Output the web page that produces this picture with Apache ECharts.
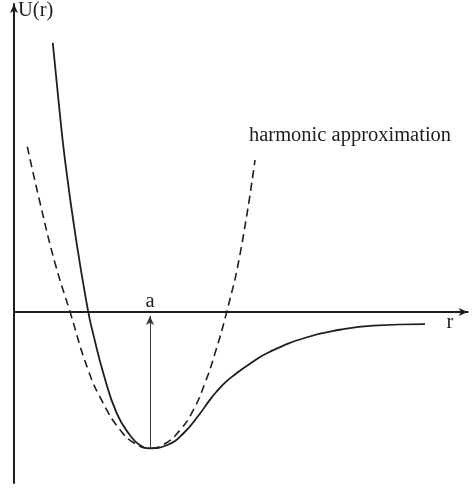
<!DOCTYPE html>
<html>
<head>
<meta charset="utf-8">
<script src="https://cdn.jsdelivr.net/npm/echarts@6/dist/echarts.min.js"></script>
<style>
  html, body { margin: 0; padding: 0; background: #fff; }
  #chart { width: 473px; height: 488px; }
</style>
</head>
<body>
<div id="chart"></div>
<script>
// Interatomic potential U(r): r in units of the equilibrium distance a,
// U in units of the well depth.
const morseR = [0.285, 0.327, 0.375, 0.457, 0.546, 0.581, 0.657, 0.755, 0.853, 0.927, 1.000,
                1.123, 1.245, 1.368, 1.429, 1.490, 1.550, 1.610, 1.735, 1.882, 2.154, 2.397, 2.640, 3.022];
const morseU = [1.974, 1.553, 1.113, 0.526, 0.000, -0.156, -0.450, -0.743, -0.905, -0.978, -1.000,
                -0.978, -0.892, -0.745, -0.660, -0.584, -0.521, -0.470, -0.380, -0.292, -0.186, -0.131, -0.101, -0.090];

// Harmonic (parabolic) approximation around the minimum
const harmR = [0.098, 0.191, 0.302, 0.412, 0.546, 0.657, 0.779, 0.890, 1.000,
               1.110, 1.221, 1.318, 1.404, 1.478, 1.564, 1.662, 1.772];
const harmU = [1.211, 0.802, 0.357, 0.000, -0.428, -0.672, -0.864, -0.966, -1.000,
               -0.967, -0.866, -0.721, -0.523, -0.303, 0.000, 0.423, 1.113];

const equilibriumR = 1.0;
const wellMin = -1.0;

const labels = {
  yName: 'U(r)',
  xName: 'r',
  eq: 'a',
  harmonic: 'harmonic approximation'
};

const zip = (xs, ys) => xs.map((x, i) => [x, ys[i]]);

const serif = '"Liberation Serif", "DejaVu Serif", serif';
const ink = '#1e1e1e';
const font = '20.5px ' + serif;

const chart = echarts.init(document.getElementById('chart'), null, { renderer: 'canvas' });

chart.setOption({
  animation: false,
  backgroundColor: '#ffffff',
  grid: { left: 14, top: 4, width: 453.7, height: 479 },
  xAxis: {
    type: 'value',
    min: 0,
    max: 3.336,
    axisLine: {
      show: true,
      onZero: true,
      symbol: ['none', 'arrow'],
      symbolSize: [6, 9],
      lineStyle: { color: ink, width: 2 }
    },
    axisTick: { show: false },
    axisLabel: { show: false },
    splitLine: { show: false }
  },
  yAxis: {
    type: 'value',
    min: -1.255,
    max: 2.258,
    axisLine: {
      show: true,
      onZero: true,
      symbol: ['none', 'arrow'],
      symbolSize: [6, 9],
      lineStyle: { color: ink, width: 2 }
    },
    axisTick: { show: false },
    axisLabel: { show: false },
    splitLine: { show: false }
  },
  series: [
    {
      name: 'U(r)',
      type: 'line',
      data: zip(morseR, morseU),
      smooth: 0.5,
      showSymbol: false,
      lineStyle: { color: ink, width: 1.8 },
      z: 3,
      markLine: {
        silent: true,
        symbol: ['none', 'arrow'],
        symbolSize: [6, 9],
        lineStyle: { color: '#333', width: 1, type: 'solid' },
        label: {
          show: true,
          position: 'end',
          formatter: labels.eq,
          distance: 4,
          color: ink,
          fontFamily: serif,
          fontSize: 20.5
        },
        data: [[
          { coord: [equilibriumR, wellMin] },
          { coord: [equilibriumR, -0.03] }
        ]]
      }
    },
    {
      name: labels.harmonic,
      type: 'line',
      data: zip(harmR, harmU),
      smooth: 0.5,
      showSymbol: false,
      lineStyle: { color: ink, width: 1.6, type: [8, 5] },
      z: 2
    }
  ],
  graphic: [
    {
      type: 'text',
      x: 18, y: 11,
      style: { text: labels.yName, fill: ink, font: font, textVerticalAlign: 'middle' }
    },
    {
      type: 'text',
      x: 450, y: 323,
      style: { text: labels.xName, fill: ink, font: font, textAlign: 'center', textVerticalAlign: 'middle' }
    },
    {
      type: 'text',
      x: 249, y: 136,
      style: { text: labels.harmonic, fill: ink, font: font, textVerticalAlign: 'middle' }
    }
  ]
});
</script>
</body>
</html>
